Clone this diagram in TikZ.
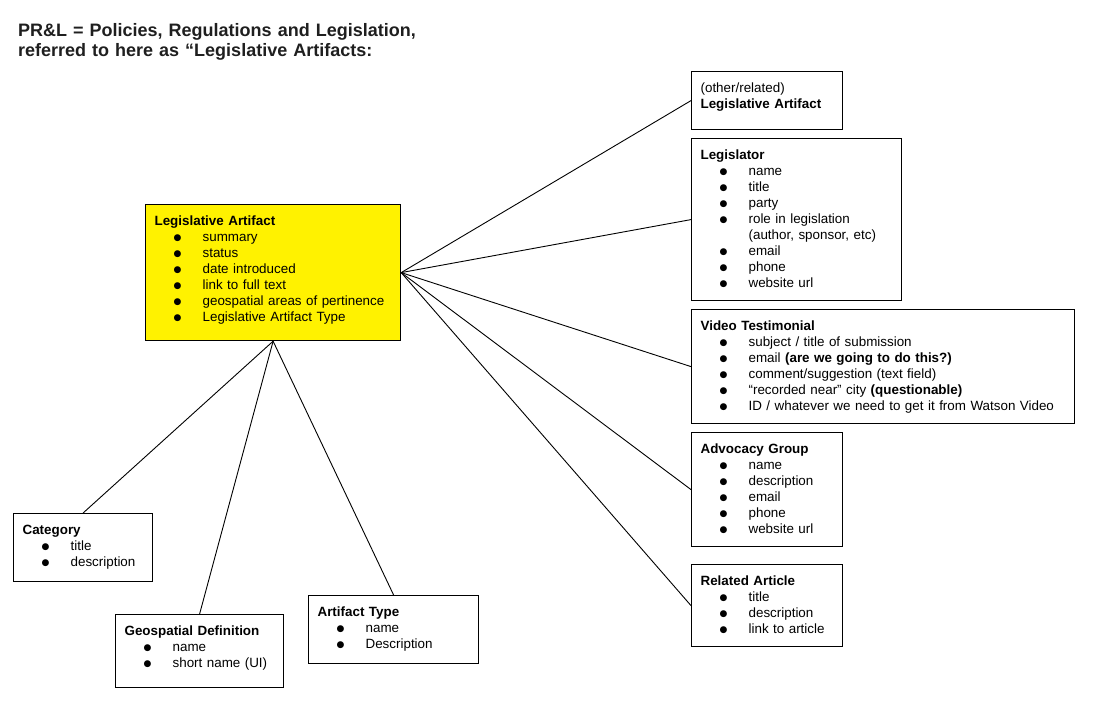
\documentclass[tikz,border=0pt]{standalone}
\usepackage{fontspec}
\setmainfont{Liberation Sans}
\newfontfamily\dotfont{DejaVu Sans}
\tikzset{
  font=\fontsize{13.4}{16}\selectfont,
  ent/.style  ={draw, line width=1.2pt, anchor=north west, align=left, inner xsep=9pt, inner ysep=11pt, text height=10pt},
  hub/.style  ={ent, fill=yellow},
  link/.style ={line width=0.9pt},
  ttl/.style  ={font=\fontsize{18}{20.5}\selectfont\bfseries, text=black!88, anchor=north west, align=left, inner sep=0pt, text height=13pt, text width=460pt},
}
\newcommand\itm{\hspace*{19pt}\makebox[29pt][l]{\raisebox{1.3pt}{\dotfont\fontsize{9}{16}\selectfont ●}}}
\newcommand\cont{\hspace*{48pt}}

\begin{document}
\begin{tikzpicture}[x=1pt, y=-1pt]
  \useasboundingbox (0,0) rectangle (1094,715);
  \node[ttl] (title) at (18,23) {PR\&L = Policies, Regulations and Legislation,\\ referred to here as “Legislative Artifacts:};

  % central artifact
  \node[hub, text width=237pt, text depth=104pt] (art) at (145,204)
    {\textbf{Legislative Artifact}\\ \itm summary\\ \itm status\\ \itm date introduced\\ \itm link to full text\\ \itm geospatial areas of pertinence\\ \itm Legislative Artifact Type};

  % right column
  \node[ent, text width=133pt, text depth=26pt] (other) at (691,71)
    {(other/related)\\ \textbf{Legislative Artifact}};
  \node[ent, text width=192pt, text depth=130pt] (legr) at (691,138)
    {\textbf{Legislator}\\ \itm name\\ \itm title\\ \itm party\\ \itm role in legislation\\ \cont (author, sponsor, etc)\\ \itm email\\ \itm phone\\ \itm website url};
  \node[ent, text width=365pt, text depth=82pt] (video) at (691,309)
    {\textbf{Video Testimonial}\\ \itm subject / title of submission\\ \itm email \textbf{(are we going to do this?)}\\ \itm comment/suggestion (text field)\\ \itm “recorded near” city \textbf{(questionable)}\\ \itm ID / whatever we need to get it from Watson Video};
  \node[ent, text width=133pt, text depth=82pt] (advo) at (691,432)
    {\textbf{Advocacy Group}\\ \itm name\\ \itm description\\ \itm email\\ \itm phone\\ \itm website url};
  \node[ent, text width=133pt, text depth=50pt] (relart) at (691,564)
    {\textbf{Related Article}\\ \itm title\\ \itm description\\ \itm link to article};

  % bottom row
  \node[ent, text width=121pt, text depth=36pt] (cat) at (13,513)
    {\textbf{Category}\\ \itm title\\ \itm description};
  \node[ent, text width=150pt, text depth=41pt] (geo) at (115,614)
    {\textbf{Geospatial Definition}\\ \itm name\\ \itm short name (UI)};
  \node[ent, text width=152pt, text depth=36pt] (atype) at (308,595)
    {\textbf{Artifact Type}\\ \itm name\\ \itm Description};

  \foreach \n in {other,legr,video,advo,relart}
    \draw[link] (art.east) -- (\n.west);
  \foreach \n in {cat,geo,atype}
    \draw[link] (art.south) -- (\n.north);
\end{tikzpicture}
\end{document}
